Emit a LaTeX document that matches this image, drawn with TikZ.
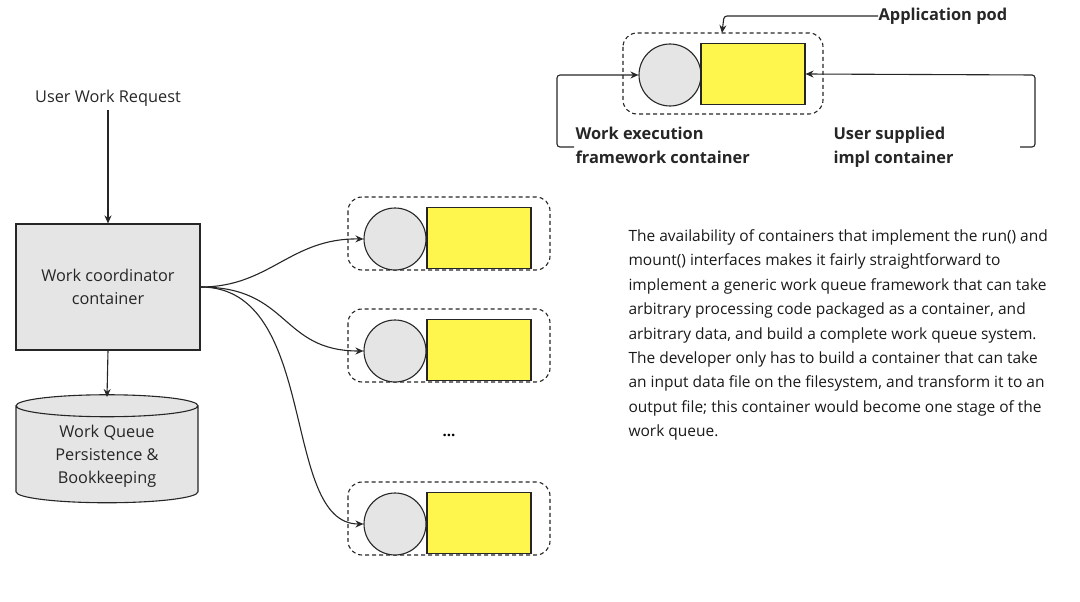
\documentclass[tikz,border=0pt]{standalone}
\usepackage{fontspec}
\setmainfont{Open Sans}
\usetikzlibrary{arrows.meta,shapes.geometric}
\begin{document}
\begin{tikzpicture}[x=1pt,y=-1pt,
  line width=1.1pt,
  arr/.style={draw=black!85,-{Stealth[length=8pt,width=7pt]}},
  pod/.style={draw=black!85,dash pattern=on 4pt off 3pt,rounded corners=14pt,line width=1.1pt},
  circ/.style={circle,draw=black!85,fill=black!10,minimum size=62pt,inner sep=0pt},
  yel/.style={draw=black!85,fill=yellow!70!white,minimum width=104pt,minimum height=61pt,inner sep=0pt},
  lbl/.style={font=\fontsize{16.3pt}{23pt}\selectfont,align=center,text=black!85},
  bold/.style={font=\fontsize{16.4pt}{24pt}\selectfont\bfseries,align=left,text=black!85}]
\useasboundingbox (0,0) rectangle (1080,602);
% left column
\node[lbl] (req) at (108,98) {User Work Request};
\node[draw=black!85,fill=black!10,minimum width=184pt,minimum height=126pt,lbl] (coord) at (108,287) {Work coordinator\\container};
\draw[arr] (req.south) -- (coord.north);
\node[cylinder,shape border rotate=90,aspect=0.2,draw=black!85,fill=black!10,minimum width=182pt,minimum height=108pt,lbl] (db) at (107,456) {Work Queue\\Persistence \&\\Bookkeeping};
\coordinate (dbtop) at (107,397);
\draw[arr] (coord.south) -- (dbtop);
% worker pods
\foreach \i/\y in {1/240,2/352,3/525}{
  \draw[pod] (348,\y-43) rectangle (550,\y+30);
  \node[circ] (c\i) at (395,\y-1) {};
  \node[yel] (y\i) at (479,\y-2) {};
}
\node[font=\fontsize{15pt}{15pt}\selectfont\bfseries] (dots) at (449,435) {...};
\draw[arr] (coord.east) .. controls (270,287) and (290,238) .. (c1.west);
\draw[arr] (coord.east) .. controls (290,287) and (280,351) .. (c2.west);
\draw[arr] (coord.east) .. controls (320,287) and (280,524) .. (c3.west);
% top legend pod
\draw[pod] (623,33) rectangle (823,114);
\node[circ] (tc) at (670,75) {};
\node[yel] (ty) at (753,74) {};
\node[bold,anchor=west,inner sep=0pt] (app) at (878,16) {Application pod};
\coordinate (appin) at (722,33);
\draw[arr,rounded corners=3pt] (app.west) -- (724,16) -- (appin);
\node[bold,anchor=north west,inner sep=0pt] (wef) at (575,126) {Work execution\\framework container};
\node[bold,anchor=north west,inner sep=0pt] (usi) at (833,126) {User supplied\\impl container};
\draw[arr,rounded corners=3pt] (574,147) -- (557,147) -- (557,75) -- (tc.west);
\draw[arr,rounded corners=3pt] (1020,147) -- (1035,147) -- (1035,75) -- (ty.east);
% paragraph
\node[anchor=north west,align=left,font=\fontsize{15.5pt}{24.4pt}\selectfont,text=black!90,inner sep=0pt] (para) at (628,229)
{The availability of containers that implement the run() and\\
mount() interfaces makes it fairly straightforward to\\
implement a generic work queue framework that can take\\
arbitrary processing code packaged as a container, and\\
arbitrary data, and build a complete work queue system.\\
The developer only has to build a container that can take\\
an input data file on the filesystem, and transform it to an\\
output file; this container would become one stage of the\\
work queue.};
\end{tikzpicture}
\end{document}
